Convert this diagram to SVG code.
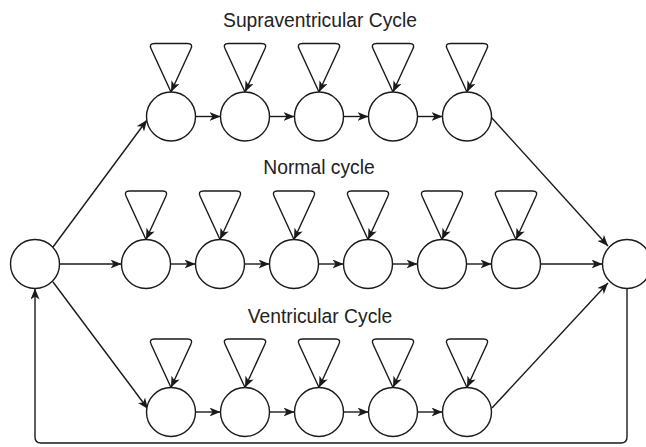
<svg xmlns="http://www.w3.org/2000/svg" width="646" height="447" viewBox="0 0 646 447">
<style>
.n{fill:#fff;stroke:#1a1a1a;stroke-width:1.4}
.e{fill:none;stroke:#1a1a1a;stroke-width:1.4;marker-end:url(#a)}
.t{font-family:"Liberation Sans",Arial,sans-serif;font-size:19.3px;fill:#222;text-anchor:middle}
</style>
<defs>
<marker id="a" markerWidth="11" markerHeight="9" refX="11" refY="4.5" orient="auto" markerUnits="userSpaceOnUse" viewBox="0 0 11 9">
<path d="M0,0 L11,4.5 L0,9 L3,4.5 z" fill="#1a1a1a"/>
</marker>
<path id="loop" d="M0,-24.5 L-19.8,-67.5 Q-22.5,-73 -16.5,-73 L16.5,-73 Q22.5,-73 19.8,-67.5 L0,-24.5"/>
</defs>
<g id="labels">
<text class="t" x="320" y="27">Supraventricular Cycle</text>
<text class="t" x="319" y="174">Normal cycle</text>
<text class="t" x="320" y="323">Ventricular Cycle</text>
</g>
<g id="connectors">
<use href="#loop" class="e" x="171" y="116.5"/>
<use href="#loop" class="e" x="245" y="116.5"/>
<use href="#loop" class="e" x="319" y="116.5"/>
<use href="#loop" class="e" x="393" y="116.5"/>
<use href="#loop" class="e" x="467" y="116.5"/>
<use href="#loop" class="e" x="146" y="264"/>
<use href="#loop" class="e" x="220" y="264"/>
<use href="#loop" class="e" x="294" y="264"/>
<use href="#loop" class="e" x="368" y="264"/>
<use href="#loop" class="e" x="442" y="264"/>
<use href="#loop" class="e" x="516" y="264"/>
<use href="#loop" class="e" x="171" y="412"/>
<use href="#loop" class="e" x="245" y="412"/>
<use href="#loop" class="e" x="319" y="412"/>
<use href="#loop" class="e" x="393" y="412"/>
<use href="#loop" class="e" x="467" y="412"/>
<path class="e" d="M195.5,116.5 H220.5"/>
<path class="e" d="M269.5,116.5 H294.5"/>
<path class="e" d="M343.5,116.5 H368.5"/>
<path class="e" d="M417.5,116.5 H442.5"/>
<path class="e" d="M59.5,264 H121.5"/>
<path class="e" d="M170.5,264 H195.5"/>
<path class="e" d="M244.5,264 H269.5"/>
<path class="e" d="M318.5,264 H343.5"/>
<path class="e" d="M392.5,264 H417.5"/>
<path class="e" d="M466.5,264 H491.5"/>
<path class="e" d="M540.5,264 H602.5"/>
<path class="e" d="M195.5,412 H220.5"/>
<path class="e" d="M269.5,412 H294.5"/>
<path class="e" d="M343.5,412 H368.5"/>
<path class="e" d="M417.5,412 H442.5"/>
<path class="e" d="M53,247 L147,120"/>
<path class="e" d="M53,282 L148,409"/>
<path class="e" d="M491,117 L608,246"/>
<path class="e" d="M492,408 L608,283"/>
<path class="e" d="M627,288.5 V437 Q627,443 621,443 H41 Q35,443 35,437 V288.5"/>
</g>
<g id="start"><circle class="n" cx="35" cy="264" r="24.5"/></g>
<g id="end"><circle class="n" cx="627" cy="264" r="24.5"/></g>
<g id="s1"><circle class="n" cx="171" cy="116.5" r="24.5"/></g>
<g id="s2"><circle class="n" cx="245" cy="116.5" r="24.5"/></g>
<g id="s3"><circle class="n" cx="319" cy="116.5" r="24.5"/></g>
<g id="s4"><circle class="n" cx="393" cy="116.5" r="24.5"/></g>
<g id="s5"><circle class="n" cx="467" cy="116.5" r="24.5"/></g>
<g id="n1"><circle class="n" cx="146" cy="264" r="24.5"/></g>
<g id="n2"><circle class="n" cx="220" cy="264" r="24.5"/></g>
<g id="n3"><circle class="n" cx="294" cy="264" r="24.5"/></g>
<g id="n4"><circle class="n" cx="368" cy="264" r="24.5"/></g>
<g id="n5"><circle class="n" cx="442" cy="264" r="24.5"/></g>
<g id="n6"><circle class="n" cx="516" cy="264" r="24.5"/></g>
<g id="v1"><circle class="n" cx="171" cy="412" r="24.5"/></g>
<g id="v2"><circle class="n" cx="245" cy="412" r="24.5"/></g>
<g id="v3"><circle class="n" cx="319" cy="412" r="24.5"/></g>
<g id="v4"><circle class="n" cx="393" cy="412" r="24.5"/></g>
<g id="v5"><circle class="n" cx="467" cy="412" r="24.5"/></g>
</svg>
